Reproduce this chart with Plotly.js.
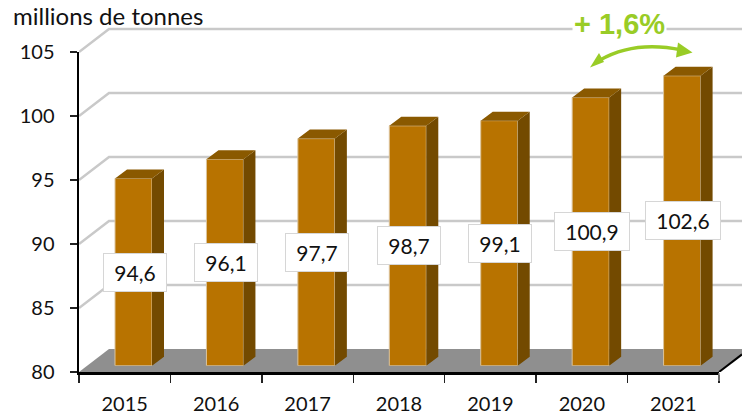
<!DOCTYPE html>
<html><head><meta charset="utf-8">
<script src="https://cdn.plot.ly/plotly-3.0.1.min.js"></script>
<style>html,body{margin:0;padding:0;background:#fff}</style></head>
<body><div id="chart" style="width:742px;height:418px"></div>
<script>
const categories = ['2015','2016','2017','2018','2019','2020','2021'];
const values = [94.6,96.1,97.7,98.7,99.1,100.9,102.6];
const valueLabels = ['94,6','96,1','97,7','98,7','99,1','100,9','102,6'];
const yTicks = [80,85,90,95,100,105];
const unitTitle = 'millions de tonnes';
const changeLabel = '+ 1,6%';

const W=742,H=418;
const fx=p=>p/W, fy=p=>1-p/H;
const font='Lato, Carlito, sans-serif';
const pxX=640/7, pxY=12.8, pxYbar=12.83;
const years=categories.map(Number);

// wall + floor plane
const wallDx=30/pxX, wallDy=23/pxY;
const xL=2014.5, xR=2021.5, xEnd=xL+(W-79)/pxX;
const gx=[],gy=[];
yTicks.forEach(t=>{ if(t>80){gx.push(xL,xL+wallDx,xEnd,null);gy.push(t,t+wallDy,t+wallDy,null);} });
const floor={x:[xL,xL+wallDx,xEnd,xEnd,xR,xL],y:[80,80+wallDy,80+wallDy,80+23/pxY*(23/30),80,80]};

// bar faces
const bw=37/pxX/2, bdx=12/pxX, bdy=9/pxYbar;
const sx=[],sy=[],tx=[],ty=[];
years.forEach((yr,i)=>{
  const v=values[i],r=yr+bw,l=yr-bw;
  sx.push(r,r+bdx,r+bdx,r,r,null); sy.push(80,80+bdy,v+bdy,v,80,null);
  tx.push(l,l+bdx,r+bdx,r,l,null); ty.push(v,v+bdy,v+bdy,v,v,null);
});

const traces=[
 {type:'scatter',x:categories,y:values,xaxis:'x',yaxis:'y',mode:'markers',marker:{opacity:0},hoverinfo:'skip',showlegend:false},
 {type:'scatter',x:floor.x,y:floor.y,xaxis:'x2',yaxis:'y2',mode:'lines',fill:'toself',fillcolor:'#8f8f8f',line:{width:0},hoverinfo:'skip',showlegend:false},
 {type:'scatter',x:gx,y:gy,xaxis:'x2',yaxis:'y2',mode:'lines',line:{color:'#c9c9c9',width:2.5},hoverinfo:'skip',showlegend:false},
 {type:'scatter',x:[xR,xEnd],y:[80,80+23/pxY*(23/30)],xaxis:'x2',yaxis:'y2',mode:'lines',line:{color:'#000',width:2},hoverinfo:'skip',showlegend:false},
 {type:'scatter',x:sx,y:sy,xaxis:'x3',yaxis:'y3',mode:'lines',fill:'toself',fillcolor:'#734a00',line:{width:0},hoverinfo:'skip',showlegend:false},
 {type:'scatter',x:tx,y:ty,xaxis:'x3',yaxis:'y3',mode:'lines',fill:'toself',fillcolor:'#8a5900',line:{width:0},hoverinfo:'skip',showlegend:false},
 {type:'bar',x:years,y:values.map(v=>v-80),base:80,width:37/pxX,xaxis:'x3',yaxis:'y3',marker:{color:'#b87300',line:{color:'#dcc49c',width:1}},hoverinfo:'skip',showlegend:false}
];

const annotations=[
 {xref:'paper',yref:'paper',x:fx(11),y:fy(15),xanchor:'left',yanchor:'middle',text:unitTitle,showarrow:false,font:{family:font,size:24,color:'#111'}},
 {xref:'paper',yref:'paper',x:fx(619),y:fy(24),xanchor:'center',yanchor:'middle',text:'<b>'+changeLabel+'</b>',showarrow:false,bgcolor:'#fff',borderpad:1,font:{family:'Liberation Sans, Arial, sans-serif',size:29,color:'#99cc26'}}
];
values.forEach((v,i)=>annotations.push({
  xref:'x3',yref:'y3',x:years[i],y:(v+80)/2,xanchor:'center',yanchor:'middle',xshift:1,showarrow:false,
  text:valueLabels[i],align:'center',width:valueLabels[i].length>4?70:58,height:33,borderpad:2,
  bgcolor:'#fff',bordercolor:'#d6d6d6',borderwidth:1,
  font:{family:font,size:21,color:'#111'}
}));

const P=(x,y)=>fx(x).toFixed(5)+','+fy(y).toFixed(5);
const green='#99cc26';
const shapes=[
 {type:'path',xref:'paper',yref:'paper',line:{color:green,width:3.5},path:'M'+P(600,60)+' Q'+P(635,40)+' '+P(682,50)},
 {type:'path',xref:'paper',yref:'paper',line:{width:0},fillcolor:green,path:'M'+P(590,67.5)+' L'+P(599,53)+' L'+P(604,62)+' Z'},
 {type:'path',xref:'paper',yref:'paper',line:{width:0},fillcolor:green,path:'M'+P(692.5,52.5)+' L'+P(678,42.5)+' L'+P(676,57.5)+' Z'},
 {type:'line',xref:'paper',yref:'paper',x0:fx(719),x1:fx(719),y0:fy(373),y1:fy(381),line:{color:'#888',width:1.5}}
];

const hidden={visible:false,fixedrange:true};
const layout={
 width:W,height:H,margin:{l:0,r:0,t:0,b:0},paper_bgcolor:'#fff',plot_bgcolor:'rgba(0,0,0,0)',showlegend:false,
 font:{family:font,size:20,color:'#111'},
 xaxis:{type:'category',categoryorder:'array',categoryarray:categories,domain:[fx(79),fx(719)],range:[-0.5,6.5],anchor:'y',
   tickson:'boundaries',ticks:'outside',ticklen:8,tickwidth:1.5,tickcolor:'#222',showline:true,linecolor:'#000',linewidth:2.5,showgrid:false,zeroline:false,
   ticklabelstandoff:12,tickfont:{family:font,size:20,color:'#111'},fixedrange:true},
 yaxis:{type:'linear',domain:[fy(372),fy(52)],range:[80,105],tickmode:'array',tickvals:yTicks,ticktext:yTicks.map(String),anchor:'x',
   ticks:'outside',ticklen:7,tickwidth:1.5,tickcolor:'#222',showline:true,linecolor:'#000',linewidth:2.5,showgrid:false,zeroline:false,
   ticklabelstandoff:11,tickfont:{family:font,size:20,color:'#111'},fixedrange:true},
 xaxis2:{...hidden,anchor:'y2',domain:[fx(79),1],range:[xL,xEnd]},
 yaxis2:{...hidden,anchor:'x2',domain:[fy(372),fy(20)],range:[80,80+352/pxY]},
 xaxis3:{...hidden,anchor:'y3',domain:[fx(87.8),1],range:[xL,xL+(W-87.8)/pxX]},
 yaxis3:{...hidden,anchor:'x3',domain:[fy(365.7),fy(20)],range:[80,80+345.7/pxYbar]},
 annotations,shapes,bargap:0
};
Plotly.newPlot('chart',traces,layout,{displayModeBar:false,staticPlot:true});
</script></body></html>
